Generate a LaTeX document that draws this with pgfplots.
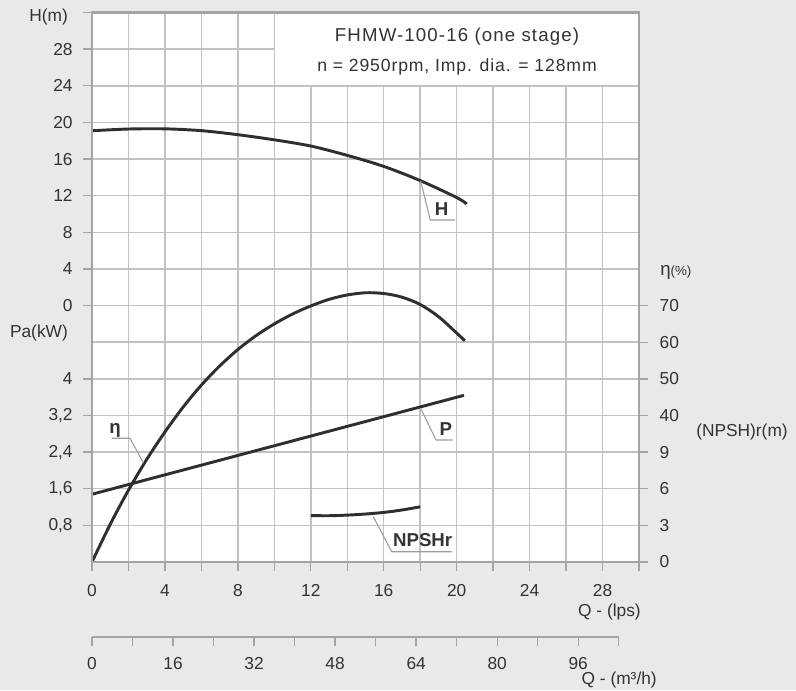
\documentclass[border=0pt]{standalone}
\usepackage{pgfplots}
\pgfplotsset{compat=1.18}
\usepackage{pgfplotstable}
\usepackage{fontspec}
\setmainfont{Liberation Sans}
\definecolor{bg}{HTML}{E8E9EB}
\definecolor{gridc}{HTML}{C2C2C2}
\definecolor{axc}{HTML}{A4A4A4}
\definecolor{curvec}{HTML}{2F2F2F}
\definecolor{txt}{HTML}{333333}
\definecolor{lead}{HTML}{9C9C9C}

\pgfplotstableread{
Q H
0 19.09
2 19.28
4 19.30
6 19.10
8 18.66
10 18.10
12 17.42
14 16.40
16 15.20
18 13.65
20 11.80
20.55 11.10
}\Hdata

\pgfplotstableread{
Q eta
0 0
1 10.3
2 19.6
3 28.0
4 35.5
5 42.3
6 48.3
7 53.5
8 58.0
9 61.8
10 65.0
11 67.7
12 69.9
13 71.7
14 72.9
15 73.5
16 73.3
17 72.3
18 70.3
19 67.0
20 62.5
20.45 60.4
}\Edata

\pgfplotstableread{
Q P
0 1.48
20.4 3.64
}\Pdata

\pgfplotstableread{
Q N
12 3.80
13 3.79
14 3.84
15 3.93
16 4.06
17 4.26
18 4.52
}\Ndata

\pgfplotsset{
  base/.style={scale only axis, width=410.25pt, height=412.1pt,
    xmin=0, xmax=30, at={(0,0)}, anchor=south west},
  hidden/.style={base, hide axis, clip=false},
  curvestyle/.style={draw=curvec, line width=2.2pt, smooth, no markers},
}

\begin{document}
\begin{tikzpicture}[font=\fontsize{13}{15}\selectfont, text=txt]
\fill[bg] (-69pt,-96pt) rectangle (528pt,421.5pt);
\fill[white] (0,0) rectangle (410.25pt,412.1pt);

% grid axis
\begin{axis}[base, ymin=0, ymax=15,
  xtick={0,2,...,30}, ytick={0,1,...,15},
  xticklabel=\empty, yticklabel=\empty,
  xmajorgrids=true, ymajorgrids=true,
  major grid style={draw=gridc, line width=1.1pt},
  major tick length=0pt, axis line style={draw=none}]
\fill[white] (axis cs:10,13) rectangle (axis cs:30,15);
\draw[gridc, line width=1.1pt] (axis cs:10,15) -- (axis cs:10,13) -- (axis cs:30,13);
\end{axis}

% H curve
\begin{axis}[hidden, ymin=-28, ymax=32]
\addplot[curvestyle] table[x=Q, y=H] {\Hdata};
\end{axis}
% efficiency
\begin{axis}[hidden, ymin=0, ymax=150]
\addplot[curvestyle] table[x=Q, y=eta] {\Edata};
\end{axis}
% power
\begin{axis}[hidden, ymin=0, ymax=12]
\addplot[curvestyle] table[x=Q, y=P] {\Pdata};
\end{axis}
% NPSHr
\begin{axis}[hidden, ymin=0, ymax=45]
\addplot[curvestyle] table[x=Q, y=N] {\Ndata};
\end{axis}

% left + bottom ticks
\begin{axis}[base, ymin=0, ymax=15, axis lines*=left, axis line style={draw=none},
  xtick={0,2,...,30}, xticklabels={0,,4,,8,,12,,16,,20,,24,,28,,},
  ytick={1,2,3,4,5,7,8,9,10,11,12,13,14,15},
  yticklabels={{0,8},{1,6},{2,4},{3,2},4,0,4,8,12,16,20,24,28,},
  tick align=outside, major tick length=6.5pt,
  tick style={draw=axc, line width=1pt},
  xticklabel shift=7pt, yticklabel shift=4.5pt,
  /pgf/number format/assume math mode=true]
\end{axis}

% right ticks
\begin{axis}[base, ymin=0, ymax=15, axis x line=none, axis y line*=right,
  axis line style={draw=none},
  ytick={0,...,7}, yticklabels={0,3,6,9,40,50,60,70},
  tick align=outside, major tick length=6.5pt,
  tick style={draw=axc, line width=1pt},
  yticklabel shift=5.5pt, yticklabel style={anchor=west}]
\end{axis}

% frame
\draw[axc, line width=1.6pt] (0,0) rectangle (410.25pt,412.1pt);

% second x axis m3/h
\begin{axis}[scale only axis, width=395.05pt, height=10pt, at={(0,-56.25pt)}, anchor=south west,
  xmin=0, xmax=104, ymin=0, ymax=1,
  axis x line*=bottom, axis y line=none,
  axis line style={-, draw=axc, line width=1.6pt},
  xtick={0,8,...,104}, xticklabels={0,,16,,32,,48,,64,,80,,96,},
  tick align=outside, major tick length=7pt,
  tick style={draw=axc, line width=1pt},
  xticklabel shift=4.5pt]
\end{axis}

% axis titles
\node[anchor=east] at (-14.6pt,409pt) {H(m)};
\node[anchor=east] at (-14.6pt,171.75pt) {Pa(kW)};
\node[anchor=west, inner sep=0pt] at (426pt,217.5pt) {\fontsize{14}{16}\selectfont η\fontsize{10}{12}\selectfont(\%)};
\node[anchor=west, inner sep=0pt] at (453pt,97.5pt) {(NPSH)r(m)};
\node[anchor=east, inner sep=0pt] at (411.75pt,-37.3pt) {Q - (lps)};
\node[anchor=east, inner sep=0pt] at (423.75pt,-88.5pt) {Q - (m³/h)};

% title
\node at (273.75pt,393.75pt) {\fontsize{14}{16}\selectfont\addfontfeatures{LetterSpace=6}FHMW-100-16 (one stage)};
\node at (273.75pt,371.25pt) {\fontsize{13.2}{16}\selectfont\addfontfeatures{LetterSpace=5}n = 2950rpm, Imp. dia. = 128mm};

% leaders and curve labels
\draw[lead, line width=0.8pt] (246.5pt,285.75pt) -- (253.7pt,256.5pt) -- (272.25pt,256.5pt);
\node[font=\fontsize{14}{16}\selectfont\bfseries] at (262.3pt,264.75pt) {H};
\draw[lead, line width=0.8pt] (246.5pt,115.3pt) -- (258pt,91.5pt) -- (270.5pt,91.5pt);
\node[font=\fontsize{14}{16}\selectfont\bfseries] at (265.3pt,99.5pt) {P};
\draw[lead, line width=0.8pt] (211pt,34pt) -- (224.8pt,7.7pt) -- (269.8pt,7.7pt);
\node[font=\fontsize{14}{16}\selectfont\bfseries] at (248pt,16.5pt) {NPSHr};
\draw[lead, line width=0.8pt] (14.8pt,92.8pt) -- (28.5pt,92.8pt) -- (38.5pt,74.5pt);
\node[font=\fontsize{14}{16}\selectfont\bfseries, anchor=base] at (17.25pt,96.75pt) {η};

\pgfresetboundingbox
\useasboundingbox (-69pt,-96pt) rectangle (528pt,421.5pt);
\end{tikzpicture}
\end{document}
